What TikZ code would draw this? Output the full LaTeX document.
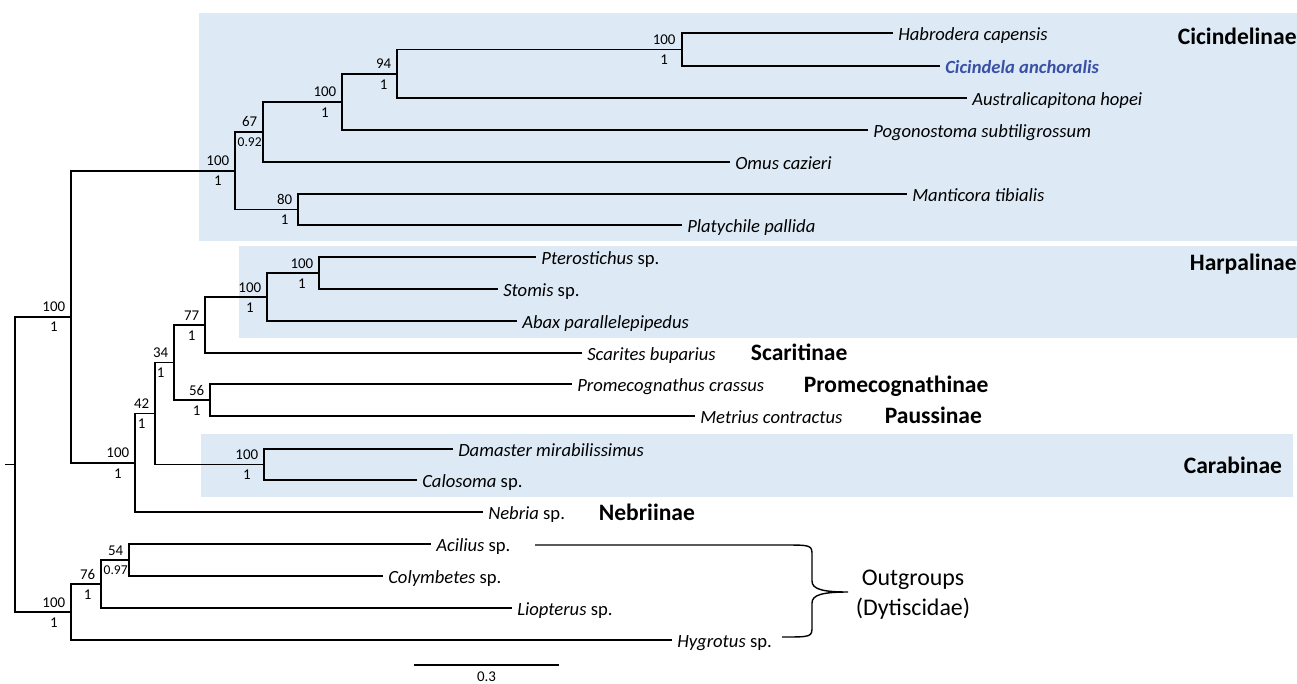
\documentclass[tikz,border=0pt]{standalone}
\usepackage{fontspec}
\setmainfont{Carlito}
\usetikzlibrary{positioning}
\definecolor{cladebg}{RGB}{221,234,246}
\definecolor{focal}{RGB}{58,80,165}
\tikzset{
	tip/.style={anchor=west, font=\fontsize{10.6}{12}\selectfont\itshape, inner xsep=2.5pt, inner ysep=0pt, text height=8pt, text depth=0pt},
	bs/.style={font=\fontsize{8.5}{10}\selectfont, inner sep=0pt, text height=5.4pt, text depth=0pt},
	pps/.style={font=\fontsize{7.7}{9}\selectfont, inner sep=0pt, text height=4.9pt, text depth=0pt},
	clade/.style={anchor=west, font=\fontsize{13.4}{16}\selectfont\bfseries, inner sep=0pt, text height=8.6pt, text depth=0pt},
	cladebox/.style={fill=cladebg, draw=none}
}

\begin{document}
\begin{tikzpicture}[x=0.02cm, y=-0.02cm, line width=1pt]
		\useasboundingbox (0,0) rectangle (1297,683);
		% shaded subfamilies
		\fill[cladebox] (199,13) rectangle (1297,241);
		\fill[cladebox] (239,246) rectangle (1297,338);
		\fill[cladebox] (201,434) rectangle (1293,497);
		% tips
		\node[tip] (habrodera) at (893,33) {Habrodera capensis};
		\node[tip, text=focal, font=\fontsize{10.6}{12}\selectfont\bfseries\itshape] (cicindela) at (940,66) {Cicindela anchoralis};
		\node[tip] (australi) at (967,98) {Australicapitona hopei};
		\node[tip] (pogono) at (868,130) {Pogonostoma subtiligrossum};
		\node[tip] (omus) at (730,162) {Omus cazieri};
		\node[tip] (manticora) at (907,194) {Manticora tibialis};
		\node[tip] (platychile) at (682,225) {Platychile pallida};
		\node[tip] (ptero) at (536,257) {Pterostichus \textup{sp.}};
		\node[tip] (stomis) at (498,289) {Stomis \textup{sp.}};
		\node[tip] (abax) at (517,321) {Abax parallelepipedus};
		\node[tip] (scarites) at (582,353) {Scarites buparius};
		\node[tip] (promeco) at (572,384) {Promecognathus crassus};
		\node[tip] (metrius) at (695,416) {Metrius contractus};
		\node[tip] (damaster) at (453,449) {Damaster mirabilissimus};
		\node[tip] (calosoma) at (417,480) {Calosoma \textup{sp.}};
		\node[tip] (nebria) at (483,512) {Nebria \textup{sp.}};
		\node[tip] (acilius) at (431,544) {Acilius \textup{sp.}};
		\node[tip] (colymbetes) at (383,576) {Colymbetes \textup{sp.}};
		\node[tip] (liopterus) at (512,608) {Liopterus \textup{sp.}};
		\node[tip] (hygrotus) at (672,640) {Hygrotus \textup{sp.}};
		% internal nodes
		\coordinate (hc) at (682,49.5);
		\coordinate (hca) at (397,73.75);
		\coordinate (hcap) at (342,101.9);
		\coordinate (cicom) at (263,131.9);
		\coordinate (manpla) at (298,209.5);
		\coordinate (cicin) at (235,170.7);
		\coordinate (ptest) at (319,273);
		\coordinate (harp) at (267,297);
		\coordinate (harsca) at (205,325);
		\coordinate (prome) at (210,400);
		\coordinate (hsp) at (174,362.5);
		\coordinate (carab) at (264,464.5);
		\coordinate (hspc) at (155,413.5);
		\coordinate (carneb) at (135,462.75);
		\coordinate (ingroup) at (71,316.7);
		\coordinate (acicol) at (129,560);
		\coordinate (acl) at (101,584);
		\coordinate (outgroup) at (71,612);
		\coordinate (root) at (15,464.4);
		\coordinate (stub) at (5,464.4);
		% branches
		\draw (hc) |- (habrodera.west);
		\draw (hc) |- (cicindela.west);
		\draw (hca) |- (hc);
		\draw (hca) |- (australi.west);
		\draw (hcap) |- (hca);
		\draw (hcap) |- (pogono.west);
		\draw (cicom) |- (hcap);
		\draw (cicom) |- (omus.west);
		\draw (manpla) |- (manticora.west);
		\draw (manpla) |- (platychile.west);
		\draw (cicin) |- (cicom);
		\draw (cicin) |- (manpla);
		\draw (ptest) |- (ptero.west);
		\draw (ptest) |- (stomis.west);
		\draw (harp) |- (ptest);
		\draw (harp) |- (abax.west);
		\draw (harsca) |- (harp);
		\draw (harsca) |- (scarites.west);
		\draw (prome) |- (promeco.west);
		\draw (prome) |- (metrius.west);
		\draw (hsp) |- (harsca);
		\draw (hsp) |- (prome);
		\draw (carab) |- (damaster.west);
		\draw (carab) |- (calosoma.west);
		\draw (hspc) |- (hsp);
		\draw (hspc) |- (carab);
		\draw (carneb) |- (hspc);
		\draw (carneb) |- (nebria.west);
		\draw (ingroup) |- (cicin);
		\draw (ingroup) |- (carneb);
		\draw (acicol) |- (acilius.west);
		\draw (acicol) |- (colymbetes.west);
		\draw (acl) |- (acicol);
		\draw (acl) |- (liopterus.west);
		\draw (outgroup) |- (acl);
		\draw (outgroup) |- (hygrotus.west);
		\draw (root) |- (ingroup);
		\draw (root) |- (outgroup);
		\draw (stub) -- (root);
		% bootstrap / posterior
		\node[bs, above left=2.3pt and 3.2pt of hc] (hc-b) {100};
		\node[bs, below=5.1pt of hc-b] (hc-p) {1};
		\node[bs, above left=2.3pt and 2.8pt of hca] (hca-b) {94};
		\node[bs, below=5.1pt of hca-b] (hca-p) {1};
		\node[bs, above left=2.3pt and 2.8pt of hcap] (hcap-b) {100};
		\node[bs, below=5.1pt of hcap-b] (hcap-p) {1};
		\node[bs, above left=2.3pt and 2.8pt of cicom] (cicom-b) {67};
		\node[pps, below=5.4pt of cicom-b] (cicom-p) {0.92};
		\node[bs, above left=2.3pt and 2.8pt of manpla] (manpla-b) {80};
		\node[bs, below=5.1pt of manpla-b] (manpla-p) {1};
		\node[bs, above left=2.3pt and 2.8pt of cicin] (cicin-b) {100};
		\node[bs, below=5.1pt of cicin-b] (cicin-p) {1};
		\node[bs, above left=2.3pt and 2.8pt of ptest] (ptest-b) {100};
		\node[bs, below=5.1pt of ptest-b] (ptest-p) {1};
		\node[bs, above left=2.3pt and 2.8pt of harp] (harp-b) {100};
		\node[bs, below=5.1pt of harp-b] (harp-p) {1};
		\node[bs, above left=2.3pt and 2.8pt of harsca] (harsca-b) {77};
		\node[bs, below=5.1pt of harsca-b] (harsca-p) {1};
		\node[bs, above left=2.3pt and 2.8pt of prome] (prome-b) {56};
		\node[bs, below=5.1pt of prome-b] (prome-p) {1};
		\node[bs, above left=2.3pt and 2.8pt of hsp] (hsp-b) {34};
		\node[bs, below=5.1pt of hsp-b] (hsp-p) {1};
		\node[bs, above left=2.3pt and 2.8pt of carab] (carab-b) {100};
		\node[bs, below=5.1pt of carab-b] (carab-p) {1};
		\node[bs, above left=2.3pt and 2.8pt of hspc] (hspc-b) {42};
		\node[bs, below=5.1pt of hspc-b] (hspc-p) {1};
		\node[bs, above left=2.3pt and 2.8pt of carneb] (carneb-b) {100};
		\node[bs, below=5.1pt of carneb-b] (carneb-p) {1};
		\node[bs, above left=2.3pt and 2.8pt of ingroup] (ingroup-b) {100};
		\node[bs, below=5.1pt of ingroup-b] (ingroup-p) {1};
		\node[bs, above left=2.3pt and 2.8pt of acicol] (acicol-b) {54};
		\node[pps, below=5.4pt of acicol-b] (acicol-p) {0.97};
		\node[bs, above left=2.3pt and 2.8pt of acl] (acl-b) {76};
		\node[bs, below=5.1pt of acl-b] (acl-p) {1};
		\node[bs, above left=2.3pt and 2.8pt of outgroup] (outgroup-b) {100};
		\node[bs, below=5.1pt of outgroup-b] (outgroup-p) {1};
		% subfamily names
		\node[clade] (cicindelinae) at (1177,36.5) {Cicindelinae};
		\node[clade] (harpalinae) at (1189,262.5) {Harpalinae};
		\node[clade] (scaritinae) at (750,353) {Scaritinae};
		\node[clade] (promecognathinae) at (803,385) {Promecognathinae};
		\node[clade] (paussinae) at (884,416) {Paussinae};
		\node[clade] (carabinae) at (1183,466) {Carabinae};
		\node[clade] (nebriinae) at (598,513) {Nebriinae};
		% outgroup brace
		\coordinate (bra) at (535,545);
		\coordinate (brb) at (782,637);
		\coordinate (brtip) at (848,592);
		\node[align=center, font=\fontsize{13.6}{17}\selectfont] (outlab) at (913,595) {Outgroups\\(Dytiscidae)};
		\draw[line width=0.8pt] (bra) -- (783,545) .. controls (812,545) .. (812,556) -- (812,581)
			.. controls (812,589) and (822,592) .. (brtip)
			.. controls (822,592) and (812,595) .. (812,603) -- (812,626)
			.. controls (812,637) .. (brb);
		% scale bar
		\coordinate (sbl) at (414,665);
		\coordinate (sbr) at (559,665);
		\draw (sbl) -- node[bs, below=3.3pt] (sblab) {0.3} (sbr);
	\end{tikzpicture}
\end{document}
